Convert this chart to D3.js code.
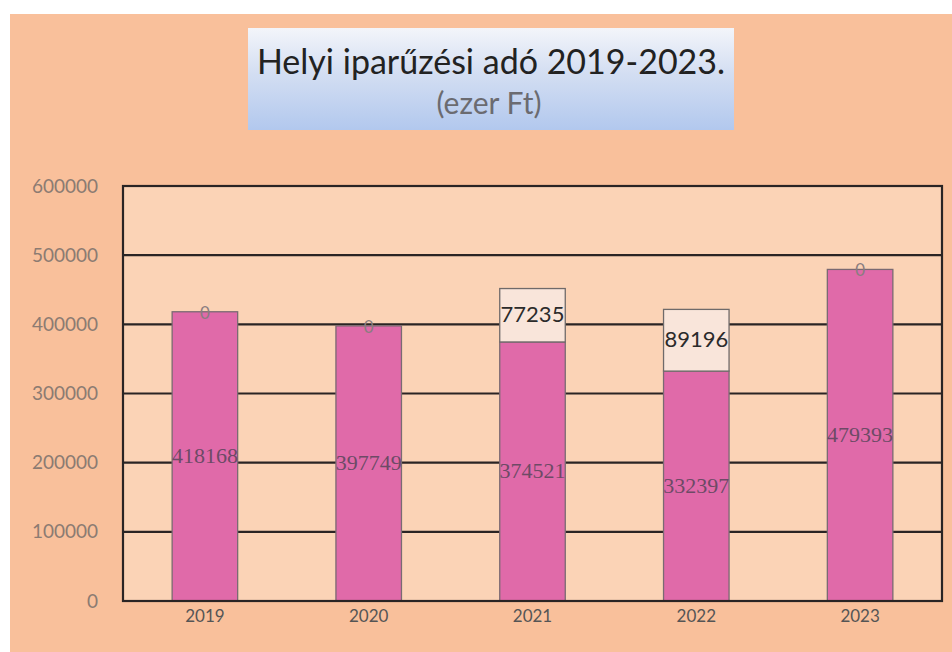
<!DOCTYPE html>
<html lang="hu">
<head>
    <meta charset="UTF-8">
    <title>Helyi iparűzési adó 2019-2023.</title>
    <script src="https://cdn.jsdelivr.net/npm/d3@7/dist/d3.min.js"></script>
    <style>
        body { margin: 0; background: #fff; }
    </style>
</head>
<body>
    <div id="chart"></div>
    <script>
        // adatok
        var years = ["2019", "2020", "2021", "2022", "2023"];
        var base = [418168, 397749, 374521, 332397, 479393];
        var extra = [0, 0, 77235, 89196, 0];
        var yTicks = [0, 100000, 200000, 300000, 400000, 500000, 600000];

        var width = 952, height = 652,
            margin = {top: 186, right: 10, bottom: 51, left: 123},
            g_width = width - margin.left - margin.right,
            g_height = height - margin.top - margin.bottom;

        var svg = d3.select("#chart").append("svg")
            .attr("width", width)
            .attr("height", height);

        // háttér
        svg.append("rect")
            .attr("x", 10).attr("y", 14)
            .attr("width", width - 10).attr("height", height - 14)
            .attr("fill", "#f9c09b");

        // cím doboz
        var defs = svg.append("defs");
        var grad = defs.append("linearGradient")
            .attr("id", "titleGrad")
            .attr("x1", 0).attr("y1", 0).attr("x2", 0).attr("y2", 1);
        grad.append("stop").attr("offset", "0%").attr("stop-color", "#f3f5fa");
        grad.append("stop").attr("offset", "45%").attr("stop-color", "#d3def2");
        grad.append("stop").attr("offset", "100%").attr("stop-color", "#b2c8ee");

        svg.append("rect")
            .attr("x", 248).attr("y", 28)
            .attr("width", 486).attr("height", 102)
            .attr("fill", "url(#titleGrad)");

        svg.append("text")
            .attr("x", 491).attr("y", 74)
            .attr("text-anchor", "middle")
            .style("font-family", "Lato, 'Open Sans', sans-serif")
            .style("font-size", "34px")
            .attr("fill", "#222")
            .text("Helyi iparűzési adó 2019-2023.");

        svg.append("text")
            .attr("x", 489).attr("y", 114)
            .attr("text-anchor", "middle")
            .style("font-family", "Lato, 'Open Sans', sans-serif")
            .style("font-size", "30px")
            .attr("fill", "#6b6b70")
            .text("(ezer Ft)");

        // skálák
        var x = d3.scaleBand()
            .domain(years)
            .range([margin.left, margin.left + g_width])
            .paddingInner(0.6)
            .paddingOuter(0.3);

        var y = d3.scaleLinear()
            .domain([0, 600000])
            .range([margin.top + g_height, margin.top]);

        // rajzterület
        svg.append("rect")
            .attr("x", margin.left).attr("y", margin.top)
            .attr("width", g_width).attr("height", g_height)
            .attr("fill", "#fbd3b6");

        // rácsvonalak
        svg.append("g")
            .selectAll("line")
            .data(yTicks)
            .enter().append("line")
            .attr("x1", margin.left).attr("x2", margin.left + g_width)
            .attr("y1", function(d) { return y(d); })
            .attr("y2", function(d) { return y(d); })
            .attr("stroke", "#2a2424")
            .attr("stroke-width", 2.2);

        // Y tengely
        var yAxis = svg.append("g")
            .attr("transform", "translate(" + (margin.left - 22) + ",0)")
            .call(d3.axisLeft(y).tickValues(yTicks).tickSize(0).tickFormat(d3.format("d")));
        yAxis.select(".domain").remove();
        yAxis.selectAll("text")
            .style("font-family", "Lato, 'Open Sans', sans-serif")
            .style("font-size", "19px")
            .attr("fill", "#8c7b72");

        // X tengely
        var xAxis = svg.append("g")
            .attr("transform", "translate(0," + (margin.top + g_height) + ")")
            .call(d3.axisBottom(x).tickSize(0).tickPadding(9));
        xAxis.select(".domain").remove();
        xAxis.selectAll("text")
            .style("font-family", "Lato, 'Open Sans', sans-serif")
            .style("font-size", "17px")
            .attr("fill", "#555");

        // oszlopok - alap
        svg.append("g")
            .selectAll("rect")
            .data(base)
            .enter().append("rect")
            .attr("x", function(d, i) { return x(years[i]); })
            .attr("y", function(d) { return y(d); })
            .attr("width", x.bandwidth())
            .attr("height", function(d) { return y(0) - y(d); })
            .attr("fill", "#e06aa9")
            .attr("stroke", "#7a6a72")
            .attr("stroke-width", 1.3);

        // oszlopok - kiegészítő
        svg.append("g")
            .selectAll("rect")
            .data(extra)
            .enter().append("rect")
            .attr("x", function(d, i) { return x(years[i]); })
            .attr("y", function(d, i) { return y(base[i] + d); })
            .attr("width", x.bandwidth())
            .attr("height", function(d, i) { return y(base[i]) - y(base[i] + d); })
            .attr("fill", "#f9e5da")
            .attr("stroke", "#6f6a6a")
            .attr("stroke-width", 1.3)
            .style("display", function(d) { return d > 0 ? null : "none"; });

        // keret
        svg.append("rect")
            .attr("x", margin.left).attr("y", margin.top)
            .attr("width", g_width).attr("height", g_height)
            .attr("fill", "none")
            .attr("stroke", "#2a2424")
            .attr("stroke-width", 2.2);

        // címkék - alap
        svg.append("g")
            .selectAll("text")
            .data(base)
            .enter().append("text")
            .attr("x", function(d, i) { return x(years[i]) + x.bandwidth() / 2; })
            .attr("y", function(d) { return y(d / 2) + 7; })
            .attr("text-anchor", "middle")
            .style("font-family", "'Liberation Serif', serif")
            .style("font-size", "22px")
            .attr("fill", "#6d4a66")
            .text(function(d) { return d; });

        // címkék - kiegészítő
        svg.append("g")
            .selectAll("text")
            .data(extra)
            .enter().append("text")
            .attr("x", function(d, i) { return x(years[i]) + x.bandwidth() / 2; })
            .attr("y", function(d, i) { return y(base[i] + d / 2) + 7; })
            .attr("text-anchor", "middle")
            .style("font-family", "Lato, 'Open Sans', sans-serif")
            .style("font-size", function(d) { return d > 0 ? "22px" : "17px"; })
            .attr("fill", function(d) { return d > 0 ? "#2b2b2b" : "#8a7d80"; })
            .text(function(d) { return d; });
    </script>
</body>
</html>
